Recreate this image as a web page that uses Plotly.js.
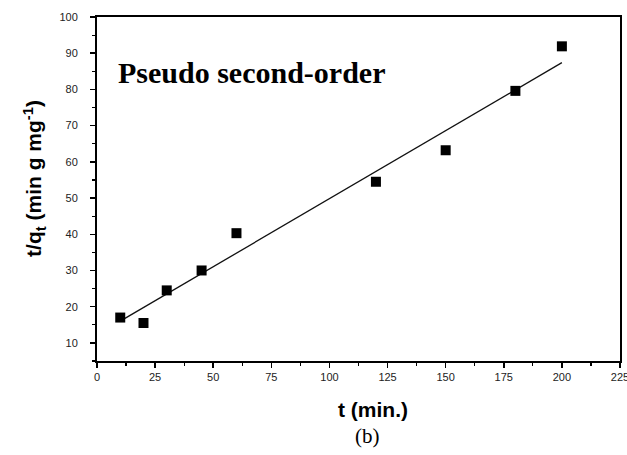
<!DOCTYPE html>
<html>
<head>
<meta charset="utf-8">
<script src="https://cdn.plot.ly/plotly-3.0.1.min.js"></script>
<style>
  html, body { margin: 0; padding: 0; background: #fff; }
  #chart { width: 627px; height: 455px; }
</style>
</head>
<body>
<div id="chart"></div>
<script>
// Contact time (min) and t/q_t values for the pseudo second-order kinetic plot
const timeMin = [10, 20, 30, 45, 60, 120, 150, 180, 200];
const tOverQt = [17.0, 15.5, 24.5, 30.0, 40.3, 54.5, 63.2, 79.6, 91.9];

// Endpoints of the linear fit line
const fitTime = [10, 200];
const fitValue = [16.0, 87.4];

const xTickVals = [0, 25, 50, 75, 100, 125, 150, 175, 200, 225];
const yTickVals = [10, 20, 30, 40, 50, 60, 70, 80, 90, 100];

const tickFont = { family: 'Arial, "Liberation Sans", sans-serif', size: 11, color: '#222' };

const traces = [
  {
    x: fitTime, y: fitValue, type: 'scatter', mode: 'lines',
    line: { color: '#111', width: 1.3 }, hoverinfo: 'skip', showlegend: false
  },
  {
    x: timeMin, y: tOverQt, type: 'scatter', mode: 'markers',
    marker: { symbol: 'square', size: 10, color: '#000' }, showlegend: false
  }
];

const layout = {
  width: 627, height: 455,
  margin: { l: 97, r: 7, t: 17, b: 94 },
  paper_bgcolor: '#fff', plot_bgcolor: '#fff',
  xaxis: {
    range: [0, 225], tickvals: xTickVals, ticktext: xTickVals.map(String),
    showgrid: false, zeroline: false,
    showline: true, linecolor: '#000', linewidth: 2, mirror: true,
    ticks: 'outside', ticklen: 5, tickwidth: 1.5, tickcolor: '#000',
    minor: { dtick: 12.5, tick0: 0, ticks: 'outside', ticklen: 3, tickwidth: 1.2, tickcolor: '#000', showgrid: false },
    tickfont: tickFont, ticklabeloverflow: 'allow', fixedrange: true
  },
  yaxis: {
    range: [5, 100], tickvals: yTickVals, ticktext: yTickVals.map(String),
    showgrid: false, zeroline: false,
    showline: true, linecolor: '#000', linewidth: 2, mirror: true,
    ticks: 'outside', ticklen: 5, tickwidth: 1.5, tickcolor: '#000',
    minor: { dtick: 5, tick0: 0, ticks: 'outside', ticklen: 3, tickwidth: 1.2, tickcolor: '#000', showgrid: false },
    tickfont: tickFont, ticklabelstandoff: 10, ticklabeloverflow: 'allow', fixedrange: true
  },
  annotations: [
    {
      text: 'Pseudo second-order', xref: 'paper', yref: 'paper',
      x: 0.037, y: 0.84, xanchor: 'left', yanchor: 'middle', showarrow: false,
      font: { family: '"Liberation Serif", "Times New Roman", serif', size: 30, color: '#000', weight: 'bold' }
    },
    {
      text: '<b>t/q<sub>t</sub> (min g mg<sup>-1</sup>)</b>', xref: 'paper', yref: 'paper',
      x: -0.12, y: 0.53, xanchor: 'center', yanchor: 'middle', textangle: -90, showarrow: false,
      font: { family: 'Arial, "Liberation Sans", sans-serif', size: 21, color: '#000' }
    },
    {
      text: '<b>t (min.)</b>', xref: 'paper', yref: 'paper',
      x: 0.527, y: -0.142, xanchor: 'center', yanchor: 'middle', showarrow: false,
      font: { family: 'Arial, "Liberation Sans", sans-serif', size: 21, color: '#000' }
    },
    {
      text: '(b)', xref: 'paper', yref: 'paper',
      x: 0.518, y: -0.218, xanchor: 'center', yanchor: 'middle', showarrow: false,
      font: { family: '"Liberation Serif", "Times New Roman", serif', size: 21, color: '#000' }
    }
  ]
};

Plotly.newPlot('chart', traces, layout, { displayModeBar: false, staticPlot: true });
</script>
</body>
</html>
